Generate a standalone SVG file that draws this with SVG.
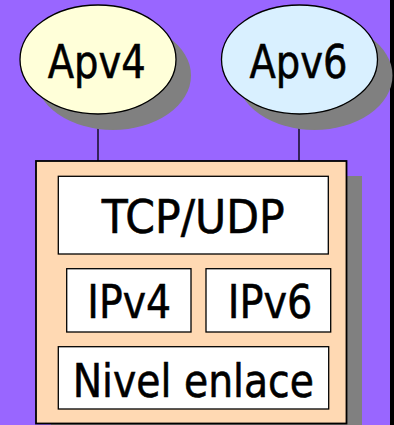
<svg xmlns="http://www.w3.org/2000/svg" width="394" height="425" viewBox="0 0 394 425">
<style>
.sh{fill:#808080;stroke:none}
.el{stroke:#000;stroke-width:1.3}
.box{fill:#fff;stroke:#000;stroke-width:1.3}
.t{font-family:"DejaVu Sans",Verdana,sans-serif;font-size:46px;fill:#000;stroke:#000;stroke-width:0.6;text-anchor:middle}
.conn{stroke:#000;stroke-width:1.3;fill:none}
</style>
<rect x="0" y="0" width="394" height="425" fill="#9966FF"/>
<rect x="390" y="0" width="4" height="425" fill="#000"/>
<g id="connectors">
<line class="conn" x1="98" y1="114" x2="98" y2="161"/>
<line class="conn" x1="299" y1="114" x2="299" y2="161"/>
</g>
<g id="apv4">
<ellipse class="sh" cx="113" cy="75.5" rx="78" ry="54.5"/>
<ellipse class="el" cx="98" cy="59.5" rx="78" ry="54.5" fill="#FFFFD9"/>
<text class="t" x="96.7" y="78.3" font-size="48" textLength="98" lengthAdjust="spacingAndGlyphs">Apv4</text>
</g>
<g id="apv6">
<ellipse class="sh" cx="314.5" cy="75.5" rx="78" ry="54.5"/>
<ellipse class="el" cx="299.5" cy="59.5" rx="78" ry="54.5" fill="#D9F0FF"/>
<text class="t" x="298.5" y="78.3" font-size="48" textLength="98" lengthAdjust="spacingAndGlyphs">Apv6</text>
</g>
<g id="stack">
<rect class="sh" x="51" y="176" width="311" height="260"/>
<rect x="36" y="161" width="310.5" height="262.5" fill="#FFD9B3" stroke="#000" stroke-width="1.8"/>
</g>
<g id="tcpudp">
<rect class="box" x="58.3" y="176.3" width="270" height="77.7"/>
<text class="t" x="193.3" y="232.7" textLength="183" lengthAdjust="spacingAndGlyphs">TCP/UDP</text>
</g>
<g id="ipv4">
<rect class="box" x="66.7" y="268.7" width="124.3" height="63.3"/>
<text class="t" x="129.2" y="318.3" textLength="83.7" lengthAdjust="spacingAndGlyphs">IPv4</text>
</g>
<g id="ipv6">
<rect class="box" x="206" y="268.7" width="124.7" height="63.3"/>
<text class="t" x="270" y="318.3" textLength="84.6" lengthAdjust="spacingAndGlyphs">IPv6</text>
</g>
<g id="nivel">
<rect class="box" x="58.3" y="346.7" width="270.4" height="62.3"/>
<text class="t" x="193.3" y="396.7" textLength="241.3" lengthAdjust="spacingAndGlyphs">Nivel enlace</text>
</g>
</svg>
